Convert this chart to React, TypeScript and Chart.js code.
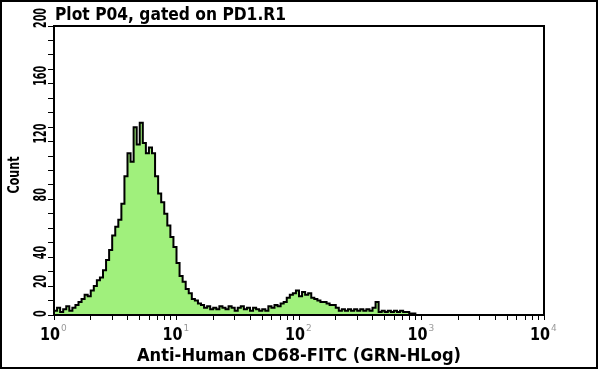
import { useEffect, useRef } from 'react';
import { Chart, registerables } from 'chart.js';

Chart.register(...registerables);

const TITLE = 'Plot P04, gated on PD1.R1';
const X_TITLE = 'Anti-Human CD68-FITC (GRN-HLog)';
const Y_TITLE = 'Count';

const BINS_PER_DECADE = 40;
const X_MIN = 1;
const X_MAX = 10000;
const Y_MIN = 0;
const Y_MAX = 200;
const Y_STEP = 10;

// Counts per histogram channel (1/40 decade each), starting at 10^0
const COUNTS = [
  15, 3, 5, 2, 4, 6, 3, 5, 7, 9,
  11, 14, 13, 17, 20, 24, 26, 31, 38, 45,
  55, 61, 66, 77, 96, 112, 106, 130, 118, 133,
  119, 112, 116, 112, 96, 84, 78, 70, 62, 54,
  47, 36, 27, 23, 18, 15, 11, 10, 8, 7,
  5, 6, 4, 5, 4, 6, 5, 4, 6, 5,
  3, 5, 6, 4, 5, 3, 5, 4, 3, 4,
  3, 6, 5, 7, 6, 8, 9, 12, 14, 15,
  17, 13, 16, 14, 15, 12, 11, 10, 9, 9,
  8, 7, 7, 5, 3, 4, 3, 4, 3, 4,
  3, 4, 3, 4, 3, 5, 9, 2, 3, 2,
  3, 2, 3, 2, 3, 2, 2, 1, 1, 0,
];

const Y_LABELS = [0, 20, 40, 80, 120, 160, 200];
const X_DECADES = [0, 1, 2, 3, 4];
const X_MINOR_MULTIPLIERS = [1, 2, 3, 4, 5, 6, 7, 8, 9];

const FONT = '"DejaVu Sans", sans-serif';

function drawScaled(
  ctx: CanvasRenderingContext2D,
  text: string,
  x: number,
  y: number,
  font: string,
  width: number | null,
  align: CanvasTextAlign,
  rot = 0,
  color = '#000',
  sxFixed = 1,
) {
  ctx.save();
  ctx.font = font;
  const w = ctx.measureText(text).width;
  const sx = width ? width / w : sxFixed;
  ctx.translate(x, y);
  if (rot) ctx.rotate(rot);
  ctx.scale(sx, 1);
  ctx.textAlign = align;
  ctx.textBaseline = 'alphabetic';
  ctx.fillStyle = color;
  ctx.fillText(text, 0, 0);
  ctx.restore();
}

const framePlugin = {
  id: 'framePlugin',
  afterDraw(chart: any) {
    const { ctx, chartArea } = chart;
    const { left, right, top, bottom } = chartArea;
    const xs = chart.scales.x;
    const ys = chart.scales.y;
    ctx.save();
    // plot frame
    ctx.strokeStyle = '#000';
    ctx.lineWidth = 2;
    ctx.strokeRect(left, top, right - left, bottom - top);
    // outer frame
    ctx.strokeRect(1, 1, 596, 367);

    // title
    drawScaled(ctx, TITLE, left + 1, 20, `bold 17px ${FONT}`, 231, 'left');

    // x tick labels
    for (const d of X_DECADES) {
      const px = xs.getPixelForValue(Math.pow(10, d));
      drawScaled(ctx, '10', px + 6, 340, `bold 17px ${FONT}`, 20, 'right');
      drawScaled(ctx, String(d), px + 7, 331, `9px ${FONT}`, null, 'left', 0, '#9a9a9a');
    }

    // y tick labels (rotated, reading upward)
    ctx.font = `bold 17px ${FONT}`;
    const ySx = 20 / ctx.measureText('200').width;
    for (const v of Y_LABELS) {
      const py = ys.getPixelForValue(v);
      drawScaled(ctx, String(v), 46, py + 2, `bold 17px ${FONT}`, null, 'left', -Math.PI / 2, '#000', ySx);
    }

    // axis titles
    drawScaled(ctx, X_TITLE, (left + right) / 2, 361, `bold 17px ${FONT}`, 324, 'center');
    drawScaled(ctx, Y_TITLE, 19, 175, `bold 16px ${FONT}`, 37, 'center', -Math.PI / 2);
    ctx.restore();
  },
};

export default function App() {
  const ref = useRef<HTMLCanvasElement>(null);

  useEffect(() => {
    document.body.style.margin = '0';
    document.body.style.background = '#fff';
    const canvas = ref.current;
    if (!canvas) return;

    const points = COUNTS.map((c, k) => ({ x: Math.pow(10, k / BINS_PER_DECADE), y: c }));

    const xTicks: { value: number }[] = [];
    for (const d of X_DECADES.slice(0, -1)) {
      for (const m of X_MINOR_MULTIPLIERS) xTicks.push({ value: m * Math.pow(10, d) });
    }
    xTicks.push({ value: Math.pow(10, X_DECADES[X_DECADES.length - 1]) });

    const chart = new Chart(canvas, {
      type: 'line',
      data: {
        datasets: [
          {
            data: points,
            stepped: 'after',
            borderColor: '#000',
            borderWidth: 2,
            backgroundColor: '#a0f07c',
            fill: 'origin',
            pointRadius: 0,
            tension: 0,
          },
        ],
      },
      options: {
        animation: false,
        responsive: false,
        devicePixelRatio: 1,
        layout: { padding: { left: 0, top: 26, right: 56, bottom: 0 } },
        plugins: {
          legend: { display: false },
          tooltip: { enabled: false },
          title: { display: false },
        },
        scales: {
          x: {
            type: 'logarithmic',
            min: X_MIN,
            max: X_MAX,
            afterBuildTicks: (s: any) => {
              s.ticks = xTicks.map((t) => ({ ...t }));
            },
            afterFit: (s: any) => {
              s.height = 55;
            },
            ticks: { callback: () => '', autoSkip: false, maxRotation: 0, minRotation: 0 },
            grid: { drawOnChartArea: false, drawTicks: true, tickLength: 5, color: '#000', lineWidth: 1 },
            border: { display: false },
          },
          y: {
            type: 'linear',
            min: Y_MIN,
            max: Y_MAX,
            afterFit: (s: any) => {
              s.width = 54;
            },
            ticks: { stepSize: Y_STEP, callback: () => '', autoSkip: false },
            grid: { drawOnChartArea: false, drawTicks: true, tickLength: 6, color: '#000', lineWidth: 1 },
            border: { display: false },
          },
        },
      },
      plugins: [framePlugin],
    });

    return () => chart.destroy();
  }, []);

  return <canvas ref={ref} width={600} height={370} style={{ display: 'block' }} />;
}
